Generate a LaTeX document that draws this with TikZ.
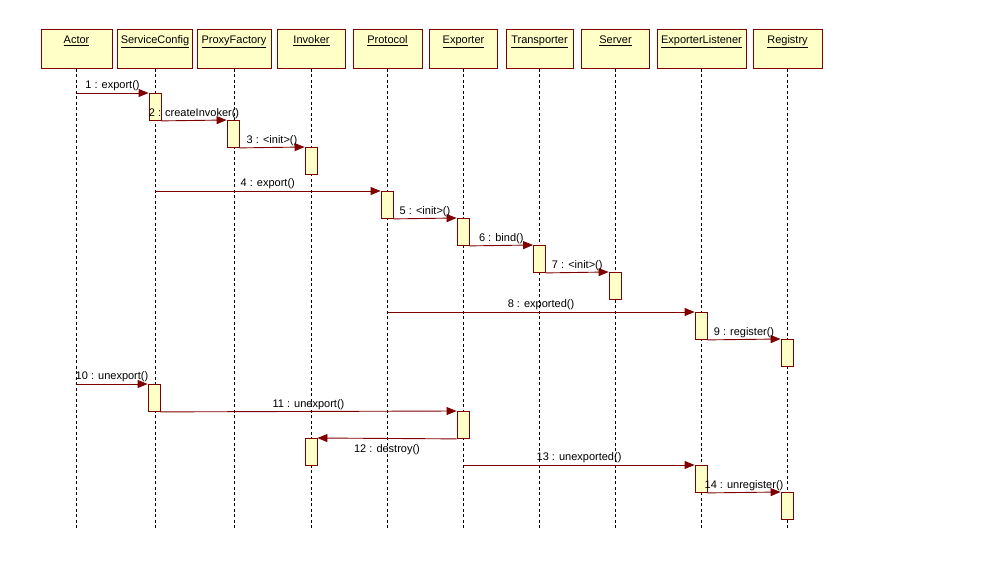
\documentclass[tikz,border=0pt]{standalone}
\usepackage{fontspec}
\setmainfont{Liberation Sans}
\usetikzlibrary{arrows.meta}
\definecolor{umlfill}{RGB}{255,255,200}
\definecolor{umlred}{RGB}{128,0,0}

\begin{document}
\begin{tikzpicture}[
			x=1pt, y=-1pt,
			font=\fontsize{11}{13}\selectfont,
			head box/.style={rectangle, draw=umlred, fill=umlfill, line width=0.9pt, minimum height=39pt, anchor=north, inner sep=0pt},
			head name/.style={anchor=north, yshift=-6.5pt, inner sep=0pt},
			act box/.style={rectangle, draw=umlred, fill=umlfill, line width=0.9pt, minimum width=12pt, minimum height=27pt, anchor=north, inner sep=0pt},
			life line/.style={dash pattern=on 3pt off 2.5pt, line width=0.7pt},
			msg/.style={draw=umlred, line width=0.9pt, -{Triangle[length=10pt,width=8pt]}},
			msg label/.style={text=black, inner sep=1.5pt}
			]
			
			\path[fill=white, use as bounding box] (0,0) rectangle (995,572);
			
			% object heads
			\node[head box, minimum width=71pt, label={[head name]north:\underline{Actor}}] (actor) at (76.5,29) {};
			\node[head box, minimum width=75pt, label={[head name]north:\underline{ServiceConfig}}] (scfg) at (155,29) {};
			\node[head box, minimum width=74pt, label={[head name]north:\underline{ProxyFactory}}] (pfac) at (234,29) {};
			\node[head box, minimum width=68pt, label={[head name]north:\underline{Invoker}}] (invk) at (311.5,29) {};
			\node[head box, minimum width=69pt, label={[head name]north:\underline{Protocol}}] (prot) at (387.5,29) {};
			\node[head box, minimum width=68pt, label={[head name]north:\underline{Exporter}}] (expo) at (463.5,29) {};
			\node[head box, minimum width=67pt, label={[head name]north:\underline{Transporter}}] (tran) at (539.5,29) {};
			\node[head box, minimum width=68pt, label={[head name]north:\underline{Server}}] (serv) at (615.5,29) {};
			\node[head box, minimum width=89pt, label={[head name]north:\underline{ExporterListener}}] (elis) at (701.5,29) {};
			\node[head box, minimum width=69pt, label={[head name]north:\underline{Registry}}] (regi) at (787.5,29) {};
			
			% lifelines
			\coordinate (bottom) at (0,528);
			\foreach \obj in {actor,scfg,pfac,invk,prot,expo,tran,serv,elis,regi}
				\draw[life line] (\obj.south) -- (\obj |- bottom);
			
			% activations
			\node[act box] (a1) at (155,93) {};
			\node[act box] (a2) at (233,120) {};
			\node[act box] (a3) at (311,147) {};
			\node[act box] (a4) at (387,191) {};
			\node[act box] (a5) at (463,218) {};
			\node[act box] (a6) at (539.5,245) {};
			\node[act box] (a7) at (615,272) {};
			\node[act box] (a8) at (701,312) {};
			\node[act box] (a9) at (787,339) {};
			\node[act box] (a10) at (154,384) {};
			\node[act box] (a11) at (463,411) {};
			\node[act box] (a12) at (311,438) {};
			\node[act box] (a13) at (701,465) {};
			\node[act box] (a14) at (787,492) {};
			
			% messages
			\draw[msg] (actor |- a1.north) -- node[above, msg label] {1 : export()} (a1.north west);
			\draw[msg] (a1.south east) -- node[above, msg label] {2 : createInvoker()} (a2.north west);
			\draw[msg] (a2.south east) -- node[above, msg label] {3 : <init>()} (a3.north west);
			\draw[msg] (scfg |- a4.north) -- node[above, msg label] {4 : export()} (a4.north west);
			\draw[msg] (a4.south east) -- node[above, msg label] {5 : <init>()} (a5.north west);
			\draw[msg] (a5.south east) -- node[above, msg label] {6 : bind()} (a6.north west);
			\draw[msg] (a6.south east) -- node[above, msg label] {7 : <init>()} (a7.north west);
			\draw[msg] (prot |- a8.north) -- node[above, msg label] {8 : exported()} (a8.north west);
			\draw[msg] (a8.south east) -- node[above, msg label] {9 : register()} (a9.north west);
			\draw[msg] (actor |- a10.north) -- node[above, msg label] {10 : unexport()} (a10.north west);
			\draw[msg] (a10.south east) -- node[above, msg label] {11 : unexport()} (a11.north west);
			\draw[msg] (a11.south west) -- node[below, msg label, yshift=-4pt] {12 : destroy()} (a12.north east);
			\draw[msg] (expo |- a13.north) -- node[above, msg label] {13 : unexported()} (a13.north west);
			\draw[msg] (a13.south east) -- node[above, msg label] {14 : unregister()} (a14.north west);
		\end{tikzpicture}
\end{document}
